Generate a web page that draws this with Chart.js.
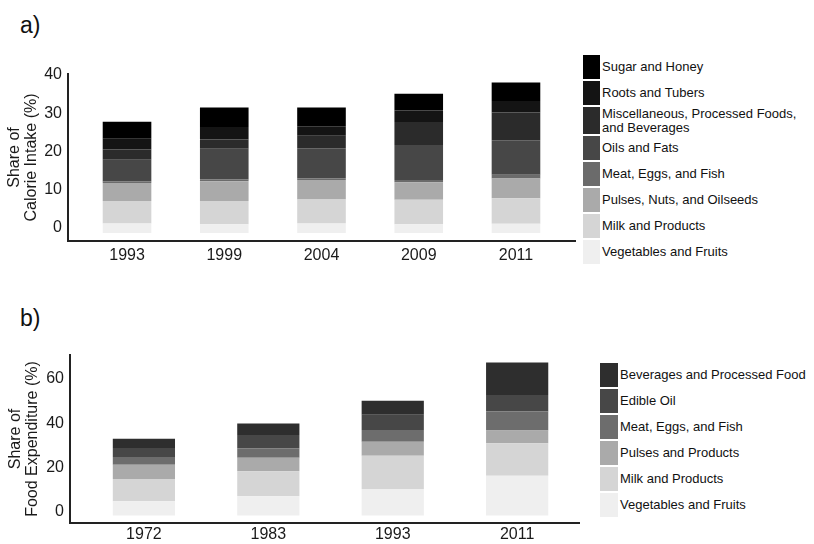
<!DOCTYPE html>
<html>
<head>
<meta charset="utf-8">
<script src="https://cdn.jsdelivr.net/npm/chart.js@4"></script>
<style>
  html, body { margin: 0; padding: 0; background: #fff; }
  body { width: 814px; height: 544px; position: relative; overflow: hidden;
         font-family: "Liberation Sans", Arial, sans-serif; color: #111; }
  canvas { position: absolute; }
  .panel-tag { position: absolute; font-size: 23px; line-height: 23px; color: #111; }
  .legend { position: absolute; display: flex; flex-direction: column; gap: 2px; }
  .legend .row { display: flex; align-items: stretch; }
  .legend .box { flex: 0 0 auto; }
  .legend .txt { font-size: 13px; line-height: 13.5px; display: flex; align-items: center;
                 padding-left: 2px; white-space: pre; }
</style>
</head>
<body>
<div class="panel-tag" style="left:20px; top:14px;">a)</div>
<div class="panel-tag" style="left:20px; top:307px;">b)</div>
<canvas id="calories" width="580" height="280" style="left:0; top:0;"></canvas>
<canvas id="spending" width="590" height="254" style="left:0; top:290px;"></canvas>
<div id="legendA" class="legend" style="left:583px; top:55px;"></div>
<div id="legendB" class="legend" style="left:600px; top:363px;"></div>
<script>
// (a) share of calorie intake, %, stacked bottom to top
const yearsA = ['1993', '1999', '2004', '2009', '2011'];
const vegFruitsA = [2.5, 2.3, 2.5, 2.3, 2.4];
const milkA = [5.9, 6.1, 6.3, 6.4, 6.7];
const pulsesNutsA = [4.7, 5.2, 5.1, 4.6, 5.2];
const meatEggsFishA = [0.5, 0.4, 0.4, 0.6, 1.0];
const oilsFatsA = [5.6, 8.1, 7.9, 9.2, 9.0];
const miscProcessedA = [2.7, 2.4, 3.3, 6.0, 7.3];
const rootsTubersA = [2.8, 3.3, 2.5, 3.0, 3.0];
const sugarHoneyA = [4.5, 5.1, 4.9, 4.4, 4.9];
const ticksA = [0, 10, 20, 30, 40];

// (b) share of food expenditure, %, stacked bottom to top
const yearsB = ['1972', '1983', '1993', '2011'];
const vegFruitsB = [6.4, 8.7, 12.0, 17.9];
const milkB = [10.1, 11.3, 14.9, 14.7];
const pulsesB = [6.4, 6.0, 6.4, 5.7];
const meatEggsFishB = [3.5, 4.3, 5.3, 8.6];
const edibleOilB = [4.1, 6.0, 6.8, 7.5];
const beveragesB = [4.1, 5.2, 6.4, 14.6];
const ticksB = [0, 20, 40, 60];

const seriesA = [
  { label: 'Vegetables and Fruits', values: vegFruitsA, color: '#efefef' },
  { label: 'Milk and Products', values: milkA, color: '#d5d5d5' },
  { label: 'Pulses, Nuts, and Oilseeds', values: pulsesNutsA, color: '#aaaaaa' },
  { label: 'Meat, Eggs, and Fish', values: meatEggsFishA, color: '#6b6b6b' },
  { label: 'Oils and Fats', values: oilsFatsA, color: '#474747' },
  { label: 'Miscellaneous, Processed Foods,\nand Beverages', values: miscProcessedA, color: '#2b2b2b' },
  { label: 'Roots and Tubers', values: rootsTubersA, color: '#141414' },
  { label: 'Sugar and Honey', values: sugarHoneyA, color: '#000000' }
];

const seriesB = [
  { label: 'Vegetables and Fruits', values: vegFruitsB, color: '#efefef' },
  { label: 'Milk and Products', values: milkB, color: '#d5d5d5' },
  { label: 'Pulses and Products', values: pulsesB, color: '#aaaaaa' },
  { label: 'Meat, Eggs, and Fish', values: meatEggsFishB, color: '#6d6d6d' },
  { label: 'Edible Oil', values: edibleOilB, color: '#474747' },
  { label: 'Beverages and Processed Food', values: beveragesB, color: '#2e2e2e' }
];

const FONT = '"Liberation Sans", Arial, sans-serif';
const INK = '#1a1a1a';
const AXIS = '#222222';

function stackedBars(canvasId, o) {
  const datasets = o.series.map(s => ({
    label: s.label,
    data: s.values.map((v, i) => ({ x: i, y: v })),
    backgroundColor: s.color,
    borderWidth: 0,
    barPercentage: 0.5,
    categoryPercentage: 1
  }));
  return new Chart(document.getElementById(canvasId), {
    type: 'bar',
    data: { datasets },
    options: {
      responsive: false,
      animation: false,
      devicePixelRatio: 1,
      layout: { padding: { top: o.padTop, right: o.padRight, left: 0, bottom: 0 } },
      plugins: { legend: { display: false }, tooltip: { enabled: false } },
      scales: {
        x: {
          type: 'linear',
          stacked: true,
          offset: false,
          min: o.xMin,
          max: o.xMax,
          grid: { display: false, drawTicks: false, offset: false },
          border: { display: true, color: AXIS, width: 2 },
          ticks: {
            stepSize: 1,
            includeBounds: false,
            autoSkip: false,
            maxRotation: 0,
            padding: o.xPad,
            color: INK,
            font: { family: FONT, size: 16 },
            callback: v => (Number.isInteger(v) && o.cats[v] !== undefined) ? o.cats[v] : ''
          },
          afterFit: s => { s.height = o.xHeight; }
        },
        y: {
          stacked: true,
          min: o.yMin,
          max: o.yMax,
          grid: { display: false, drawTicks: false },
          border: { display: true, color: AXIS, width: 2 },
          afterBuildTicks: s => { s.ticks = o.yTicks.map(v => ({ value: v })); },
          ticks: {
            padding: 6,
            labelOffset: o.labelOffset,
            color: INK,
            font: { family: FONT, size: 16 }
          },
          title: {
            display: true,
            text: o.yTitle,
            color: INK,
            font: { family: FONT, size: 16, lineHeight: o.titleLH },
            padding: { top: 6.5, bottom: 0 }
          },
          afterFit: s => { s.width = o.yWidth; }
        }
      }
    }
  });
}

stackedBars('calories', {
  series: seriesA, cats: yearsA, yTicks: ticksA,
  xMin: -0.607, xMax: 4.607, yMin: -2.1, yMax: 41.7,
  padTop: 74, padRight: 5, xHeight: 39, xPad: 5, yWidth: 68,
  labelOffset: -5.5, titleLH: 1.03,
  yTitle: ['Share of', 'Calorie Intake (%)']
});

stackedBars('spending', {
  series: seriesB, cats: yearsB, yTicks: ticksB,
  xMin: -0.594, xMax: 3.497, yMin: -3.38, yMax: 72.4,
  padTop: 65, padRight: 11, xHeight: 21, xPad: 2, yWidth: 70,
  labelOffset: -3.5, titleLH: 1.1,
  yTitle: ['Share of', 'Food Expenditure (%)']
});

// Legends list the series top of stack first, with swatches as tall as each row
function buildLegend(id, series, boxW, rowH) {
  const host = document.getElementById(id);
  series.slice().reverse().forEach(s => {
    const row = document.createElement('div');
    row.className = 'row';
    row.style.minHeight = rowH + 'px';
    const box = document.createElement('div');
    box.className = 'box';
    box.style.width = boxW + 'px';
    box.style.background = s.color;
    const txt = document.createElement('div');
    txt.className = 'txt';
    txt.textContent = s.label;
    row.appendChild(box);
    row.appendChild(txt);
    host.appendChild(row);
  });
}
buildLegend('legendA', seriesA, 17, 24);
buildLegend('legendB', seriesB, 18, 24);
</script>
</body>
</html>
